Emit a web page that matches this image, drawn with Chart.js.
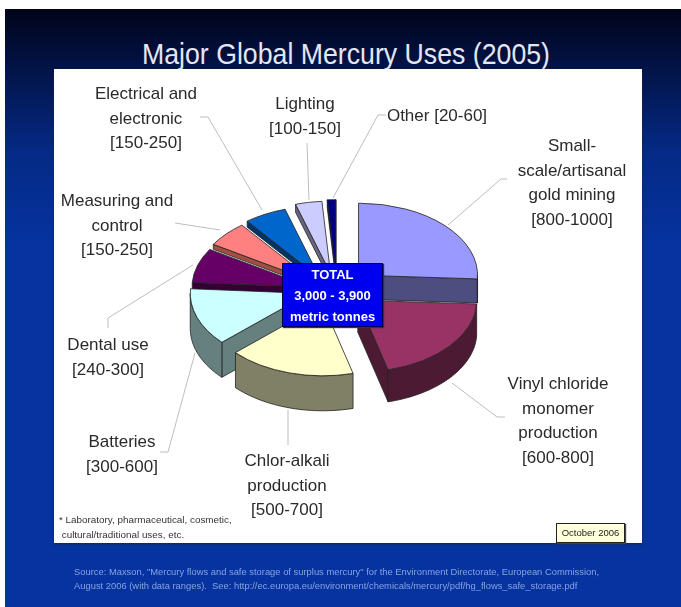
<!DOCTYPE html>
<html lang="en">
<head>
<meta charset="UTF-8" />
<title>Major Global Mercury Uses (2005)</title>
<script src="https://cdn.jsdelivr.net/npm/chart.js"></script>
<style>
    html, body { margin: 0; padding: 0; background: #fff; }
    #page { position: relative; width: 681px; height: 607px; overflow: hidden; font-family: "Liberation Sans", Arial, sans-serif; filter: blur(0.6px); }
    #bg { position: absolute; left: 5px; top: 9px; right: 0; bottom: 0; background: linear-gradient(to bottom, #01041a 0%, #02103f 8%, #052a86 24%, #0633a0 40%, #0633a0 100%); }
    #panel { position: absolute; left: 54px; top: 69px; width: 588px; height: 474px; background: #fff; box-shadow: 0 1px 2px #223; }
    #chart { position: absolute; left: 0; top: 0; }
    h1 { position: absolute; left: 0; top: 37px; width: 692px; margin: 0; text-align: center; font-weight: normal; font-size: 30px; line-height: 34px; color: #e4e6f4; white-space: nowrap; transform: scaleX(0.89); }
    .lbl { position: absolute; margin-top: 1px; color: #2a2a2a; font-size: 17px; line-height: 24.5px; text-align: center; white-space: nowrap; transform: translateX(-50%); }
    #total { position: absolute; left: 282px; top: 263px; width: 101px; height: 64px; box-sizing: border-box; border: 1px solid #000048; background: #0000f0; color: #fff; font-weight: bold; font-size: 13px; line-height: 21px; text-align: center; box-shadow: 1px 1px 1px #333; }
    #note { position: absolute; left: 59px; top: 512px; color: #333; font-size: 9.9px; line-height: 15px; white-space: nowrap; }
    #date { position: absolute; left: 556px; top: 523px; width: 69px; height: 20px; box-sizing: border-box; border: 1px solid #222; background: #ffffdc; color: #222; font-size: 9.5px; line-height: 18px; text-align: center; box-shadow: 1px 1px 1px #444; }
    #source { position: absolute; left: 74px; top: 565px; color: #86a3e0; font-size: 9.4px; line-height: 14px; white-space: nowrap; }
</style>
</head>
<body>
<div id="page">
    <div id="bg"></div>
    <h1>Major Global Mercury Uses (2005)</h1>
    <div id="panel"></div>
    <canvas id="chart" width="681" height="607"></canvas>
    <div class="lbl" style="left:146px;top:81px">Electrical and<br>electronic<br>[150-250]</div>
    <div class="lbl" style="left:305px;top:91px">Lighting<br>[100-150]</div>
    <div class="lbl" style="left:437px;top:103px">Other [20-60]</div>
    <div class="lbl" style="left:572px;top:133px">Small-<br>scale/artisanal<br>gold mining<br>[800-1000]</div>
    <div class="lbl" style="left:117px;top:188px">Measuring and<br>control<br>[150-250]</div>
    <div class="lbl" style="left:108px;top:332px">Dental use<br>[240-300]</div>
    <div class="lbl" style="left:122px;top:429px">Batteries<br>[300-600]</div>
    <div class="lbl" style="left:287px;top:448px">Chlor-alkali<br>production<br>[500-700]</div>
    <div class="lbl" style="left:558px;top:371px">Vinyl chloride<br>monomer<br>production<br>[600-800]</div>
    <div id="total">TOTAL<br>3,000 - 3,900<br>metric tonnes</div>
    <div id="note">* Laboratory, pharmaceutical, cosmetic,<br>&nbsp;cultural/traditional uses, etc.</div>
    <div id="date">October 2006</div>
    <div id="source">Source: Maxson, "Mercury flows and safe storage of surplus mercury" for the Environment Directorate, European Commission,<br>August 2006 (with data ranges).&nbsp; See: http://ec.europa.eu/environment/chemicals/mercury/pdf/hg_flows_safe_storage.pdf</div>
</div>

<script>
    // midpoints of the ranges printed on the labels, tonnes
    const categorias = ['Small-scale/artisanal gold mining', 'Vinyl chloride monomer production', 'Chlor-alkali production', 'Batteries', 'Dental use', 'Measuring and control', 'Electrical and electronic', 'Lighting', 'Other'];
    const valores = [900, 700, 600, 450, 270, 200, 200, 125, 40];

    const coloresTop = ['#9999ff', '#993366', '#ffffcc', '#ccffff', '#660066', '#ff8080', '#0066cc', '#ccccff', '#000080'];
    const coloresLado = ['#4d4d80', '#4d1a33', '#808066', '#668080', '#330033', '#a05040', '#003366', '#666680', '#000040'];

    // look of the fake 3d pie
    const separacion = [38, 32, 22, 22, 21, 22, 24, 30, 32];
    const ajusteX = [0, 2, -2, -1, 0, 0, 0, 5, 6];
    const ajusteY = [0, -3, 0, -2, 0, 0, 0, 0, 0];
    const grosor = [24, 32, 35, 35, 11, 5, 6, 8, 8];
    const aplastado = 0.605;
    const centro = { x: 331, y: 291 };

    const lineasGuia = [
        [[200, 117], [208, 117], [262, 210]],
        [[307, 143], [309, 200]],
        [[386, 115], [378, 115], [333, 198]],
        [[507, 179], [501, 179], [448, 225]],
        [[175, 223], [220, 230]],
        [[108, 328], [108, 318], [193, 265]],
        [[160, 452], [168, 452], [195, 353]],
        [[288, 445], [288, 410]],
        [[452, 383], [497, 417], [505, 417]]
    ];

    function puntoBorde(arc, ang, dy) {
        return {
            x: arc.x + Math.cos(ang) * arc.outerRadius,
            y: centro.y + (arc.y - centro.y + Math.sin(ang) * arc.outerRadius) * aplastado + dy
        };
    }

    function dibujarCara(ctx, arc, ang, dy, color) {
        const vertice = { x: arc.x, y: centro.y + (arc.y - centro.y) * aplastado };
        const p = puntoBorde(arc, ang, 0);
        ctx.beginPath();
        ctx.moveTo(vertice.x, vertice.y);
        ctx.lineTo(p.x, p.y);
        ctx.lineTo(p.x, p.y + dy);
        ctx.lineTo(vertice.x, vertice.y + dy);
        ctx.closePath();
        ctx.fillStyle = color;
        ctx.fill();
        ctx.stroke();
    }

    function dibujarPared(ctx, arc, desde, hasta, dy, color) {
        ctx.beginPath();
        const pasos = 40;
        for (let i = 0; i <= pasos; i++) {
            const p = puntoBorde(arc, desde + (hasta - desde) * i / pasos, 0);
            i ? ctx.lineTo(p.x, p.y) : ctx.moveTo(p.x, p.y);
        }
        for (let i = pasos; i >= 0; i--) {
            const p = puntoBorde(arc, desde + (hasta - desde) * i / pasos, dy);
            ctx.lineTo(p.x, p.y);
        }
        ctx.closePath();
        ctx.fillStyle = color;
        ctx.fill();
        ctx.stroke();
    }

    const pie3d = {
        id: 'pie3d',
        // separar cada porcion sin usar offset, que agranda las porciones finas
        afterDatasetsUpdate(chart) {
            chart.getDatasetMeta(0).data.forEach((arc, i) => {
                const medio = (arc.startAngle + arc.endAngle) / 2;
                arc.x = centro.x + Math.cos(medio) * separacion[i] + ajusteX[i];
                arc.y = centro.y + Math.sin(medio) * separacion[i] + ajusteY[i] / aplastado;
            });
        },
        beforeDatasetsDraw(chart) {
            const ctx = chart.ctx;
            const arcos = chart.getDatasetMeta(0).data;

            ctx.save();
            ctx.strokeStyle = '#bdbdbd';
            ctx.lineWidth = 1;
            lineasGuia.forEach(linea => {
                ctx.beginPath();
                linea.forEach((p, i) => i ? ctx.lineTo(p[0], p[1]) : ctx.moveTo(p[0], p[1]));
                ctx.stroke();
            });
            ctx.restore();

            // caras laterales, de atras hacia delante
            const orden = arcos.map((a, i) => i).sort((a, b) => arcos[a].y - arcos[b].y);
            ctx.save();
            ctx.strokeStyle = '#222';
            ctx.lineWidth = 0.8;
            orden.forEach(i => {
                const arc = arcos[i];
                if (Math.cos(arc.startAngle) < 0) dibujarCara(ctx, arc, arc.startAngle, grosor[i], coloresLado[i]);
                if (Math.cos(arc.endAngle) > 0) dibujarCara(ctx, arc, arc.endAngle, grosor[i], coloresLado[i]);
                const desde = Math.max(arc.startAngle, 0);
                const hasta = Math.min(arc.endAngle, Math.PI);
                if (hasta > desde) dibujarPared(ctx, arc, desde, hasta, grosor[i], coloresLado[i]);
            });
            ctx.restore();

            // las tapas las dibuja chart.js, aplastadas
            ctx.save();
            ctx.translate(0, centro.y);
            ctx.scale(1, aplastado);
            ctx.translate(0, -centro.y);
        },
        afterDatasetsDraw(chart) {
            chart.ctx.restore();
        }
    };

    new Chart(document.getElementById('chart'), {
        type: 'pie',
        data: {
            labels: categorias,
            datasets: [{
                data: valores,
                backgroundColor: coloresTop,
                borderColor: '#222',
                borderWidth: 1,
                clip: false
            }]
        },
        options: {
            responsive: false,
            animation: false,
            radius: 119,
            layout: { padding: 0 },
            plugins: { legend: { display: false }, tooltip: { enabled: false } }
        },
        plugins: [pie3d]
    });
</script>
</body>
</html>
